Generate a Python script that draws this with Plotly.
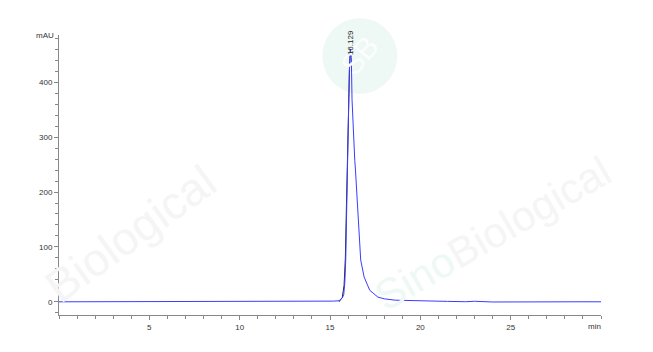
import plotly.graph_objects as go

# Chromatogram (blue trace)
time_min = [0, 2, 4, 6, 7, 8, 10, 12, 13.5, 14.5, 15.2, 15.5, 15.6, 15.68, 15.76, 15.82,
            15.87, 15.92, 15.97, 16.02, 16.07, 16.13, 16.18, 16.22, 16.30, 16.37, 16.41,
            16.48, 16.56, 16.70, 16.89, 17.2, 17.65, 18.0, 18.6, 19.5, 20.5, 21.5, 22.5,
            23, 24, 25, 26, 27, 28, 29, 30]
signal_mau = [0, 0, 0, 0, 0.3, 0.5, 0.6, 0.8, 0.8, 1.0, 1.3, 2, 4, 7, 13, 35,
              76, 165, 258, 350, 420, 460, 445, 368, 295, 258, 240,
              198, 136, 76, 45, 21, 8.6, 5.5, 3, 2, 1.5, 0.8, 0.2,
              1.0, -0.3, 0, 0.2, -0.2, 0, 0.1, 0]

# Reference (black) trace around the peak
ref_time = [15.5, 15.68, 15.78, 15.85, 15.91, 15.96, 16.02, 16.08, 16.13]
ref_mau = [0, 8, 30, 80, 175, 270, 360, 425, 458]

peak_rt = 16.129
peak_label = "16.129"
peak_label_y = 472

x_ticks = [5, 10, 15, 20, 25]
y_ticks = [0, 100, 200, 300, 400]

fig = go.Figure()
fig.add_trace(go.Scatter(x=ref_time, y=ref_mau, mode="lines",
                         line=dict(color="#222222", width=1), hoverinfo="skip"))
fig.add_trace(go.Scatter(x=time_min, y=signal_mau, mode="lines",
                         line=dict(color="#3c3cff", width=1)))

axis_font = dict(family="Liberation Sans, Arial, sans-serif", size=8, color="#333333")

fig.update_layout(
    width=653, height=352,
    margin=dict(l=59, r=52, t=35, b=37),
    paper_bgcolor="white", plot_bgcolor="white",
    showlegend=False,
    xaxis=dict(range=[0, 30], tickvals=x_ticks, ticks="outside", ticklen=4,
               tickcolor="#888888", showline=True, linecolor="#888888", linewidth=1,
               showgrid=False, zeroline=False, tickfont=axis_font,
               minor=dict(dtick=1, ticks="outside", ticklen=3, tickcolor="#888888", showgrid=False)),
    yaxis=dict(range=[-24, 486], tickvals=y_ticks, ticks="outside", ticklen=4,
               tickcolor="#888888", showline=True, linecolor="#888888", linewidth=1,
               showgrid=False, zeroline=False, tickfont=axis_font,
               minor=dict(dtick=20, tick0=0, ticks="outside", ticklen=3, tickcolor="#888888", showgrid=False)),
)

# faint watermark decorations
fig.add_shape(type="circle", xref="paper", yref="paper",
              x0=0.486, x1=0.624, y0=0.79, y1=1.06, fillcolor="#eef8f5",
              line=dict(width=0), layer="below")
fig.add_annotation(text="SB", xref="paper", yref="paper", x=0.555, y=0.925,
                   xanchor="center", yanchor="middle",
                   showarrow=False, textangle=-50,
                   font=dict(family="Liberation Sans", size=30, color="#fbfefd"))
fig.add_annotation(text="Biological", xref="paper", yref="paper", x=0.131, y=0.29,
                   xanchor="center", yanchor="middle",
                   showarrow=False, textangle=-36,
                   font=dict(family="Liberation Sans", size=46, color="#f5f5f5"))
fig.add_annotation(text="<span style='color:#eef8f5'>Sino</span>Biological", xref="paper", yref="paper",
                   x=0.80, y=0.29, xanchor="center", yanchor="middle",
                   showarrow=False, textangle=-30,
                   font=dict(family="Liberation Sans", size=42, color="#f5f5f5"))

fig.add_annotation(text="mAU", xref="paper", yref="paper", x=0, y=1.0, xshift=-3,
                   xanchor="right", yanchor="middle", showarrow=False, font=axis_font)
fig.add_annotation(text="min", xref="paper", yref="paper", x=1.0, y=0, xshift=2, yshift=-5,
                   xanchor="right", yanchor="top", showarrow=False, font=axis_font)
fig.add_annotation(text=peak_label, x=peak_rt, y=peak_label_y, textangle=-90,
                   xanchor="center", yanchor="middle", showarrow=False,
                   font=dict(family="Liberation Sans, Arial, sans-serif", size=8, color="#222222"))

fig.write_html("out.html")
